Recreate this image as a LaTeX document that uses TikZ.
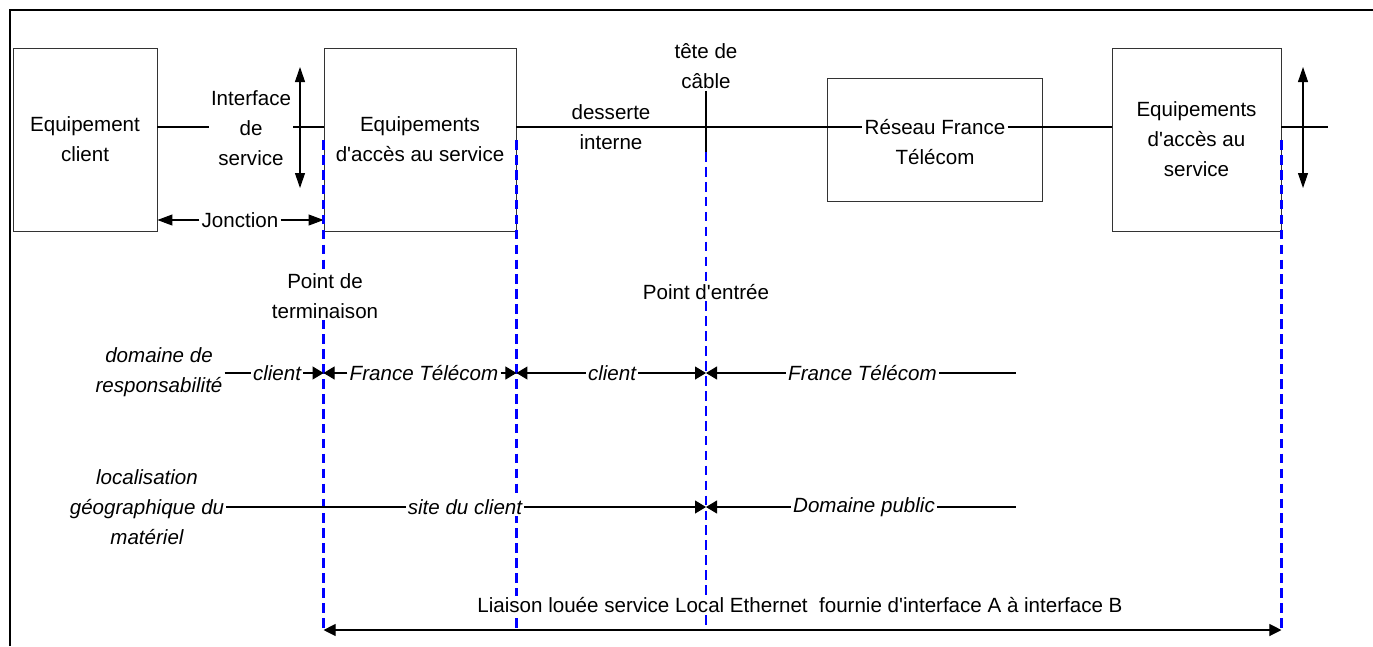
\documentclass[tikz,border=0pt]{standalone}
\usepackage{fontspec}
\setmainfont[Ligatures=TeXOff]{Liberation Sans}
\usetikzlibrary{arrows.meta}
\newcommand\police{\fontsize{11.7}{17}\selectfont}
\tikzset{
  boite/.style={draw=black!80,line width=.5pt,align=center,inner sep=2pt},
  texte/.style={align=center,inner sep=1pt},
  ital/.style={texte,font=\police\itshape,fill=white},
  tiret/.style={draw=blue,line width=1.3pt,dash pattern=on 5.5pt off 3pt},
  pointe/.style={-{Triangle[length=.22cm,width=.26cm]}},
  pointeg/.style={-{Triangle[length=.3cm,width=.22cm]}},
  grand/.style={{Triangle[length=.3cm,width=.2cm]}-{Triangle[length=.3cm,width=.2cm]}},
  liaisonfl/.style={{Triangle[length=.24cm,width=.24cm]}-{Triangle[length=.24cm,width=.24cm]}}
}
\begin{document}
\begin{tikzpicture}[font=\police,line width=.6pt]
\useasboundingbox (0,0) rectangle (27.46,-12.92);
\draw[line width=1.6pt] (.2,-12.92) -- (.2,-.2) -- (27.46,-.2);
% boites
\node[boite,minimum width=2.88cm,minimum height=3.66cm] (client) at (1.70,-2.79) {Equipement\\client};
\node[boite,minimum width=3.84cm,minimum height=3.66cm] (acces) at (8.40,-2.79) {Equipements\\d'accès au service};
\node[boite,minimum width=4.30cm,minimum height=2.46cm] (reseau) at (18.69,-2.79) {};
\node[texte] (rf) at (18.70,-2.84) {Réseau France\\Télécom};
\node[boite,minimum width=3.38cm,minimum height=3.66cm] (accesb) at (23.93,-2.79) {Equipements\\d'accès au\\service};
% ligne principale
\coordinate (ligne) at (0,-2.54);
\coordinate (fin) at (26.56,-2.54);
\node[texte] (iface) at (5.02,-2.56) {Interface\\de\\service};
\node[texte] (desserte) at (12.22,-2.54) {desserte\\interne};
\node[texte] (tete) at (14.12,-1.32) {tête de\\câble};
\coordinate (entree) at (14.12,-3.04);
\draw (client.east |- ligne) -- (iface.west |- ligne);
\draw (iface.east |- ligne) -- (acces.west |- ligne);
\draw (acces.east |- ligne) -- (rf.west |- ligne);
\draw (rf.east |- ligne) -- (accesb.west |- ligne);
\draw (accesb.east |- ligne) -- (fin);
\draw (tete) -- (entree);
\coordinate (ia) at (6.00,-1.34);
\coordinate (ib) at (6.00,-3.76);
\coordinate (ja) at (26.06,-1.34);
\coordinate (jb) at (26.06,-3.76);
\draw[grand] (ia) -- (ib);
\draw[grand] (ja) -- (jb);
\node[texte,fill=white] (jonction) at (4.80,-4.40) {Jonction};
\draw[pointeg] (jonction) -- (client.east |- jonction);
\draw[pointeg] (jonction) -- (acces.west |- jonction);
% pointilles
\coordinate (haut) at (0,-2.80);
\coordinate (bas) at (0,-12.60);
\draw[tiret] (acces.west |- haut) -- (acces.west |- bas);
\draw[tiret] (acces.east |- haut) -- (acces.east |- bas);
\draw[tiret] (entree) -- (14.12,-12.50);
\draw[tiret] (accesb.east |- haut) -- (accesb.east |- bas);
\node[texte,fill=white] (terminaison) at (6.50,-5.92) {Point de\\terminaison};
\node[texte,fill=white] (pentree) at (14.12,-5.84) {Point d'entrée};
% domaine de responsabilite
\node[ital] (resp) at (3.18,-7.44) {domaine de\\responsabilité};
\node[ital] (r1a) at (5.54,-7.46) {client};
\node[ital] (r1b) at (8.48,-7.46) {France Télécom};
\node[ital] (r1c) at (12.24,-7.46) {client};
\node[ital] (r1d) at (17.25,-7.46) {France Télécom};
\coordinate (r1fin) at (20.32,-7.46);
\draw (resp.east |- r1a) -- (r1a);
\draw[pointe] (r1a) -- (acces.west |- r1a);
\draw[pointe] (r1b) -- (acces.west |- r1b);
\draw[pointe] (r1b) -- (acces.east |- r1b);
\draw[pointe] (r1c) -- (acces.east |- r1c);
\draw[pointe] (r1c) -- (entree |- r1c);
\draw[pointe] (r1d) -- (entree |- r1d);
\draw (r1d) -- (r1fin);
% localisation
\node[ital] (loc) at (2.94,-10.14) {localisation\\géographique du\\matériel};
\node[ital] (site) at (9.30,-10.14) {site du client};
\node[ital] (public) at (17.28,-10.14) {Domaine public};
\coordinate (r2fin) at (20.32,-10.14);
\draw (loc) -- (site);
\draw[pointe] (site) -- (entree |- site);
\draw[pointe] (public) -- (entree |- public);
\draw (public) -- (r2fin);
% liaison
\node[texte,fill=white] (liaison) at (16.0,-12.10) {Liaison louée service Local Ethernet~ fournie d'interface A à interface B};
\draw[liaisonfl] (acces.west |- bas) -- (accesb.east |- bas);
\end{tikzpicture}
\end{document}
